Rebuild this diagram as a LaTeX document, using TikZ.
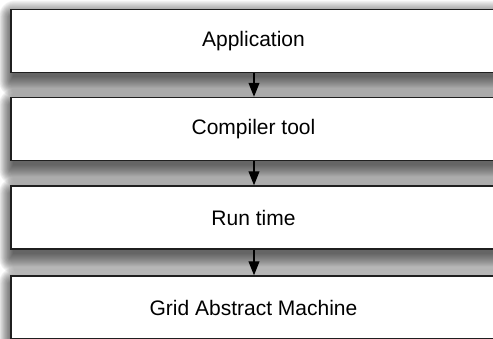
\documentclass[tikz,border=0pt]{standalone}
\usepackage{fontspec}
\setmainfont{Liberation Sans}
\usetikzlibrary{arrows.meta,backgrounds}
\begin{document}
\begin{tikzpicture}[x=1pt,y=-1pt,
  layer/.style={draw=black!88, line width=1.5pt, fill=white, rectangle,
    minimum width=485pt, minimum height=63pt, inner sep=0pt,
    font=\fontsize{21}{24}\selectfont},
  flow/.style={draw=black, line width=1.1pt,
    -{Triangle[width=11pt,length=14pt]}},
  shadowpart/.style={fill=black, fill opacity=0.045}]
\useasboundingbox (0,0) rectangle (493,338);
\clip (0,0) rectangle (493,338);
\node[layer] (app) at (253.5,40.75) {Application};
\node[layer] (comp) at (253.5,129) {Compiler tool};
\node[layer] (rt) at (253.5,217.5) {Run time};
\node[layer] (gam) at (253.5,307.5) {Grid Abstract Machine};
\draw[flow] (app.south -| 254,0) -- (comp.north -| 254,0);
\draw[flow] (comp.south -| 254,0) -- (rt.north -| 254,0);
\draw[flow] (rt.south -| 254,0) -- (gam.north -| 254,0);
% soft drop shadows: stacked translucent rectangles, each a little wider
\begin{scope}[on background layer]
  \foreach \n in {app,comp,rt,gam}{
    \foreach \r in {-4,...,16}{
      \pgfmathsetmacro{\rc}{max(\r,0.01)}
      \pgfmathsetmacro{\ta}{\r-8}
      \pgfmathsetmacro{\tb}{-\r-8}
      \pgfmathsetmacro{\xs}{0.7*\r}
      \fill[shadowpart, rounded corners=\rc pt]
        ([xshift=-\xs pt, yshift=\ta pt]\n.north west) rectangle
        ([xshift=\xs pt, yshift=\tb pt]\n.south east);
    }
  }
\end{scope}
\end{tikzpicture}
\end{document}
